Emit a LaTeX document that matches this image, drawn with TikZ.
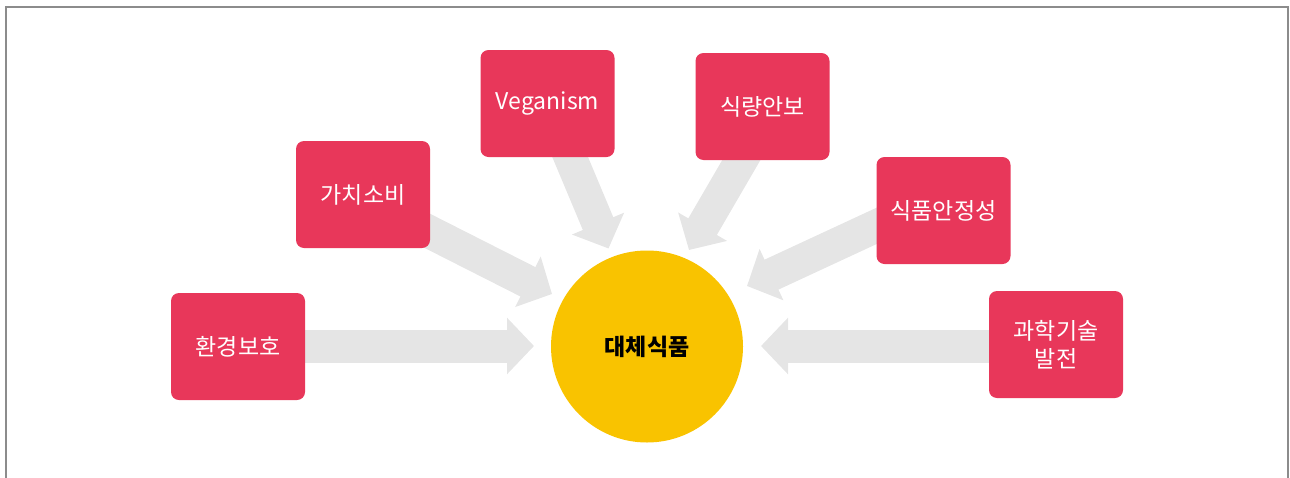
\documentclass[tikz,border=0pt]{standalone}
\usepackage{fontspec}
\setmainfont{Noto Sans CJK KR}
\usetikzlibrary{arrows.meta}
\definecolor{boxred}{RGB}{232,55,90}
\definecolor{sun}{RGB}{249,195,0}
\definecolor{arrowgray}{RGB}{229,229,229}
\definecolor{framegray}{RGB}{140,140,140}
\begin{document}
\begin{tikzpicture}[x=1pt,y=-1pt,
  box/.style={fill=boxred, rounded corners=8pt, minimum width=134pt, minimum height=107pt,
    text=white, font=\fontsize{23}{28}\selectfont, align=center, inner sep=0pt},
  hub/.style={circle, fill=sun, minimum size=192pt, inner sep=0pt, text=black,
    font=\bfseries\fontsize{23}{28}\selectfont},
  flow/.style={draw=arrowgray, line width=33pt, -{Triangle[length=27pt,width=55pt]}},
  frameline/.style={draw=framegray, line width=2pt}]
\useasboundingbox (0,0) rectangle (1290,477);
\draw[frameline] (6,478) -- (6,7) -- (1288,7) -- (1288,478);
% arrow end points
\coordinate (s1) at (300,346);  \coordinate (t1) at (534,346);
\coordinate (s2) at (400,217);  \coordinate (t2) at (552,294);
\coordinate (s3) at (563,140);  \coordinate (t3) at (608.5,248.5);
\coordinate (s4) at (753,140);  \coordinate (t4) at (689,250);
\coordinate (s5) at (900,215);  \coordinate (t5) at (747,286);
\coordinate (s6) at (1000,346); \coordinate (t6) at (761,346);
\foreach \i in {1,...,6} { \draw[flow] (s\i) -- (t\i); }
% boxes
\node[box] (b1) at (238,346.5) {환경보호};
\node[box] (b2) at (363,194.5) {가치소비};
\node[box] (b3) at (547.5,103.5) {Veganism};
\node[box] (b4) at (762.5,106.5) {식량안보};
\node[box] (b5) at (943.5,210.5) {식품안정성};
\node[box] (b6) at (1056,344.5) {과학기술\\발전};
% hub
\node[hub] (c) at (647,346.5) {대체식품};
\end{tikzpicture}
\end{document}
